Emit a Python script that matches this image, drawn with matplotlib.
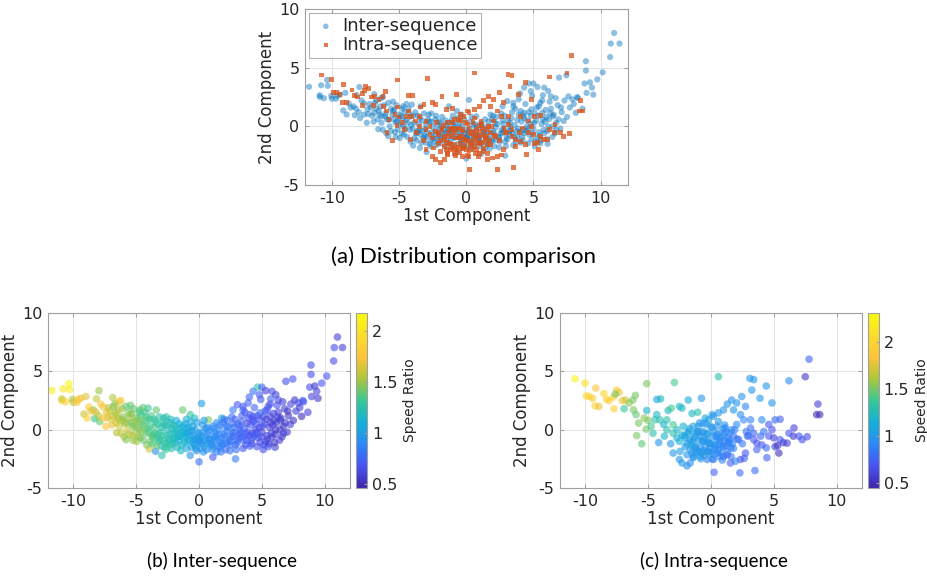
"""PCA projection of inter- vs intra-sequence features, coloured by speed ratio."""

import matplotlib

matplotlib.use("Agg")
import matplotlib.pyplot as plt
from matplotlib.cm import ScalarMappable
from matplotlib.colors import LinearSegmentedColormap, Normalize

plt.rcParams["font.family"] = ["DejaVu Sans"]
plt.rcParams["axes.unicode_minus"] = False

# --- inter-sequence points (1st comp, 2nd comp, speed ratio) ---
inter_x = [
    -11.7, -10.9, -10.9, -10.8, -10.35, -10.3, -10.05, -10.0, -9.7, -9.4,
    -9.0, -9.15, -8.9, -8.75, -7.95, -8.15, -8.4, -8.3, -7.9, -7.6,
    -7.3, -7.4, -6.85, -6.7, -6.55, -6.35, -6.2, -6.05, -5.8, -5.45,
    -5.1, -4.7, -4.05, -3.95, -3.45, -2.95, -3.4, -2.6, -1.9, -1.3,
    -0.7, -0.35, 0.2, 0.0, -0.7, 0.75, 1.1, 1.8, 2.7, 2.9,
    3.05, 3.5, 3.9, 4.3, 4.65, 5.0, 5.3, 5.7, 6.3, 6.9,
    7.45, 7.6, 8.25, 8.65, 8.15, 8.9, 8.9, 8.8, 8.95, 9.2,
    9.35, 9.45, 9.75, 10.15, 10.7, 10.75, 11.0, 11.4, 4.2, 4.6,
    5.1, 5.5, 6.05, 6.7, 7.25, 6.45, 5.65, 5.4, 4.85, 4.3,
    3.8, 3.25, 2.7, 2.2, 1.65, 1.1, 0.6, 0.05, -0.45, -1.0,
    -1.5, -2.05, -2.6, -3.1, -3.65, -4.2, -4.7, -5.25, -5.75, -6.3,
    -6.85, -7.35, -8.6, -8.0, -7.8, -7.2, -7.0, -6.8, -6.5, -6.3,
    -6.1, -6.0, -5.8, -5.7, -5.6, -5.4, -5.3, -5.2, -5.0, -4.9,
    -4.8, -4.6, -4.5, -4.4, -4.3, -4.2, -4.0, -3.9, -3.8, -3.7,
    -3.6, -3.5, -3.3, -3.2, -3.0, -2.9, -2.8, -2.7, -2.5, -2.4,
    -2.3, -2.2, -2.0, -1.9, -1.8, -1.7, -1.5, -1.4, -1.2, -1.1,
    -0.9, -0.8, -0.6, -0.5, -0.3, -0.2, 0.0, 0.2, 0.3, 0.5,
    0.6, 0.8, 0.9, 1.1, 1.3, 1.4, 1.6, 1.7, 1.9, 2.0,
    2.1, 2.3, 2.4, 2.6, 2.8, 2.9, 3.1, 3.2, 3.4, 3.5,
    3.6, 3.8, 3.9, 4.1, 4.2, 4.4, 4.5, 4.7, 4.8, 4.9,
    5.0, 5.2, 5.3, 5.5, 5.6, 5.8, 5.9, 6.1, 6.2, 6.4,
    6.5, 6.7, 6.8, 7.0, 7.1, 7.3, 7.5, 7.7, 7.9, 8.0,
    8.3, -4.7, -4.1, -3.4, -3.0, -2.6, -2.1, -1.6, -1.3, -1.0,
    -0.7, -0.4, -0.1, 0.1, 0.4, 0.7, 1.0, 1.2, 1.5, 1.8,
    2.2, 2.5, 2.7, 3.0, 3.3, 3.7, 4.0, 4.3, 4.6, 5.1,
    5.4, 5.7, 6.0, 6.3, 6.6, -5.5, -6.6, -7.6, -8.2, -9.6,
    -10.6, -2.3, -1.0, 0.4, 1.4, -0.3, 2.0, 3.5, 4.0, 4.8,
    5.8, 6.1,
    -7.1, -6.9, -6.7, -6.4, -6.2, -5.9, -5.6, -5.35, -5.15, -4.95,
    -4.75, -4.55, -4.35, -4.15, -3.95, -3.75, -3.55, -3.35, -3.15, -2.95,
    -2.75, -2.55, -2.35, -2.15, -1.95, -1.75, -1.55, -1.35, -1.15, -0.95,
    -0.75, -0.55, -0.35, -0.15, 0.05, 0.25, 0.45, 0.65, 0.85, 1.05,
    1.25, 1.45, 1.65, 1.85, 2.05, 2.25, 2.45, 2.65, 2.85, 3.05,
    3.25, 3.45, 3.65, 3.85, 4.05, 4.25, 4.45, 4.65, 4.85, 5.05,
    5.25, 5.45, 5.65, 5.85, 6.05, 6.25, 6.45, 6.65, 6.85, 7.05,
    -6.45, -5.95, -5.45, -5.05, -4.65, -4.25, -3.85, -3.45, -3.05, -2.65,
    -2.25, -1.85, -1.45, -1.05, -0.65, -0.25, 0.15, 0.55, 0.95, 1.35,
    1.75, 2.15, 2.55, 2.95, 3.35, 3.75, 4.15, 4.55, 4.95, 5.35,
    5.75, 6.15, -5.25, -4.45, -3.65, -2.85, -2.05, -1.25, -0.45, 0.35,
    1.15, 1.95, 2.75, 3.55, 4.35, 5.15, 5.95, -3.25, -1.65, 0.0,
    1.6, 3.2, 4.8, -4.85, -2.45, -0.85, 0.85, 2.45, 4.05, 5.55,
]
inter_y = [
    3.37, 2.5, 2.65, 3.5, 3.95, 3.45, 2.6, 2.35, 2.35, 2.7,
    2.85, 1.35, 1.0, 1.95, 3.35, 2.65, 1.7, 0.95, 0.7, 1.95,
    1.05, 0.3, 2.75, 1.5, -0.25, 2.4, 2.5, 0.85, -0.85, 1.3,
    -0.25, 1.7, 1.85, -1.65, -1.85, -2.2, 1.7, 1.1, 0.3, 1.7,
    1.3, 1.0, 2.25, -2.75, -2.2, 0.85, -2.35, 1.0, 1.7, -2.5,
    2.15, 1.7, 2.3, 3.3, 3.65, 3.65, 3.35, 2.65, 2.55, 4.15,
    4.35, 2.55, 2.5, 1.5, 1.15, 5.55, 4.75, 3.65, 2.85, 3.75,
    3.3, 2.7, 4.0, 4.6, 5.9, 7.05, 7.95, 7.05, -0.3, -1.45,
    -1.7, -1.45, -1.5, -0.3, 0.45, 0.85, 1.15, 1.7, 1.45, 1.15,
    0.55, 0.0, -0.55, -1.15, -1.55, -1.45, -1.15, -0.85, -0.55, -0.3,
    -0.55, -0.85, -1.15, -0.85, -0.55, -0.3, 0.0, 0.3, 0.55, 0.85,
    1.15, 1.45, 1.6, 1.2, 2.2, 1.9, 0.9, 2.0, 1.3, 0.3,
    1.8, 1.1, 2.0, 0.0, 1.5, 0.6, -0.5, 1.8, 1.0, 0.2,
    -0.6, 1.2, 0.5, -0.9, 1.5, 0.8, -0.2, 0.3, 1.2, -1.2,
    0.9, -0.3, 0.5, -1.0, 0.2, -0.5, 1.0, -1.5, 0.0, -0.8,
    0.6, -1.6, -0.3, -1.1, 0.8, -0.6, 0.1, -1.3, -0.7, 0.5,
    -1.0, -0.2, -1.5, 0.3, -0.8, -1.8, -0.3, -1.2, 0.4, -0.6,
    -1.7, -0.1, -1.0, 0.3, -0.5, -1.9, 0.0, -1.1, 0.6, -0.4,
    -1.7, 0.2, -0.9, 1.1, -0.2, -1.3, 0.5, -0.7, 1.2, -1.6,
    0.1, -0.9, 1.0, 0.4, -1.2, 1.9, 0.0, -0.7, 0.9, 2.6,
    -0.2, 0.5, -1.0, 2.0, 0.2, -0.6, 1.4, 0.0, 2.1, -0.9,
    1.0, 0.3, 1.8, -0.2, 1.2, 2.2, 0.8, 1.6, 2.3, 1.9,
    2.4, 0.7, 0.1, -0.7, -1.4, 0.4, -1.2, -0.9, 0.3, -1.6,
    -0.5, -1.2, -0.6, -1.6, -0.9, -0.4, -1.3, -0.8, -1.4, -0.7,
    -0.1, -1.3, 0.5, -0.9, -0.3, -1.3, -0.5, 0.7, -0.2, 1.1,
    -0.5, 0.6, -1.1, 1.5, -0.6, 1.0, 0.6, 1.0, 1.5, 2.6,
    2.4, -0.4, 0.9, 0.8, 0.6, 0.0, 0.9, 2.0, 2.8, 3.0,
    3.3, 3.0,
    1.6, 0.4, 2.2, 1.7, -0.3, 0.6, -0.4, 1.4, 0.4, -1.0,
    1.5, -0.2, 0.3, -1.3, 0.9, -0.6, 0.2, -1.4, 1.1, -0.9,
    0.4, -0.5, -1.3, 0.1, -0.7, -1.5, 0.5, -0.2, -1.1, 0.1,
    -0.9, -0.1, -1.3, 0.6, -1.0, -0.2, -1.4, 0.2, -0.8, -1.7,
    -0.2, -0.9, 0.4, -1.3, -0.6, 0.8, -1.0, -0.3, 0.9, -1.1,
    0.3, -0.6, 1.5, -0.2, -1.4, 0.9, -0.4, 1.2, -1.1, 0.3,
    1.6, -0.8, 2.2, 0.4, -0.4, 1.1, 0.0, 2.4, 0.6, 1.6,
    1.0, -0.6, 2.1, 0.7, -0.7, 1.1, -1.0, 0.7, -0.2, -1.7,
    0.9, -0.1, -1.8, -0.5, 0.7, -1.6, -0.5, 0.1, -1.2, -0.6,
    -1.9, 0.3, -0.6, -1.7, 0.7, -0.4, -0.9, 0.5, -0.6, 0.9,
    -0.3, 0.6, -0.9, 1.9, -0.4, 0.6, 0.4, -0.3, -0.9, -1.9,
    0.1, -1.2, 0.2, -0.9, -0.6, -1.3, 0.8, -0.4, -0.3, -1.0,
    -0.4, -0.4, 0.2, 0.9, -1.0, 0.2, -0.8, -1.8, 1.3, -1.2,
]
inter_speed = [
    2.1, 1.9, 1.6, 2.05, 2.15, 2.1, 1.55, 1.6, 1.8, 1.7,
    1.65, 1.6, 1.85, 1.8, 1.5, 1.6, 1.5, 1.3, 1.4, 1.7,
    1.6, 1.75, 1.55, 1.5, 1.55, 1.65, 1.8, 1.5, 1.45, 1.6,
    1.5, 1.35, 1.3, 1.6, 0.95, 1.25, 1.4, 1.3, 1.2, 1.4,
    1.3, 1.2, 1.0, 0.8, 0.95, 1.45, 0.7, 1.1, 0.85, 0.85,
    0.7, 0.8, 0.75, 0.8, 1.25, 0.75, 0.6, 0.75, 0.65, 0.65,
    0.7, 0.55, 0.7, 0.6, 0.5, 0.65, 0.65, 0.65, 0.6, 0.55,
    0.6, 0.55, 0.7, 0.7, 0.65, 0.65, 0.6, 0.6, 0.55, 0.65,
    0.65, 0.7, 0.6, 0.65, 0.6, 0.6, 0.6, 0.7, 0.8, 0.65,
    0.6, 0.75, 0.8, 0.85, 0.9, 0.95, 1.0, 0.95, 1.0, 1.1,
    1.15, 1.15, 1.25, 1.3, 1.35, 1.4, 1.45, 1.45, 1.5, 1.55,
    1.6, 1.7, 1.7, 1.55, 1.75, 1.55, 1.65, 1.45, 1.55, 1.6,
    1.5, 1.45, 1.4, 1.6, 1.45, 1.4, 1.55, 1.4, 1.4, 1.45,
    1.5, 1.35, 1.4, 1.4, 1.3, 1.35, 1.35, 1.3, 1.35, 1.35,
    1.3, 1.3, 1.25, 1.3, 1.2, 1.25, 1.2, 1.25, 1.2, 1.2,
    1.15, 1.2, 1.15, 1.15, 1.1, 1.15, 1.1, 1.1, 1.1, 1.05,
    1.05, 1.0, 1.0, 1.05, 1.0, 0.95, 0.95, 0.95, 1.0, 0.95,
    0.9, 0.95, 0.9, 0.9, 0.9, 0.85, 0.9, 0.85, 0.85, 0.85,
    0.8, 0.85, 0.8, 0.8, 0.8, 0.75, 0.8, 0.75, 0.75, 0.7,
    0.75, 0.7, 0.7, 0.7, 0.65, 0.75, 0.65, 0.65, 0.7, 0.7,
    0.6, 0.65, 0.6, 0.7, 0.6, 0.6, 0.6, 0.55, 0.65, 0.6,
    0.55, 0.55, 0.6, 0.55, 0.55, 0.6, 0.55, 0.6, 0.65, 0.6,
    0.7, 1.4, 1.35, 1.3, 1.2, 1.25, 1.2, 1.1, 1.1, 1.05,
    1.0, 1.0, 0.95, 0.95, 0.95, 0.9, 0.9, 0.9, 0.85, 0.85,
    0.85, 0.8, 0.8, 0.75, 0.75, 0.7, 0.7, 0.7, 0.65, 0.65,
    0.6, 0.6, 0.55, 0.6, 0.55, 1.5, 1.6, 1.75, 1.65, 1.75,
    1.85, 1.2, 1.1, 1.0, 0.9, 1.0, 0.8, 0.7, 0.75, 0.7,
    0.65, 0.6,
    1.6, 1.7, 1.5, 1.55, 1.6, 1.5, 1.55, 1.45, 1.45, 1.5,
    1.35, 1.45, 1.4, 1.45, 1.3, 1.4, 1.35, 1.4, 1.25, 1.3,
    1.25, 1.25, 1.3, 1.2, 1.2, 1.2, 1.1, 1.15, 1.15, 1.05,
    1.1, 1.0, 1.05, 1.0, 1.0, 0.95, 1.0, 0.9, 0.95, 0.95,
    0.9, 0.9, 0.85, 0.9, 0.85, 0.8, 0.85, 0.8, 0.75, 0.8,
    0.75, 0.75, 0.7, 0.7, 0.7, 0.65, 0.7, 0.7, 0.65, 0.65,
    0.7, 0.6, 0.65, 0.6, 0.55, 0.6, 0.55, 0.6, 0.55, 0.55,
    1.55, 1.5, 1.4, 1.5, 1.45, 1.35, 1.4, 1.3, 1.3, 1.3,
    1.2, 1.2, 1.15, 1.1, 1.05, 1.0, 1.0, 0.95, 0.95, 0.9,
    0.85, 0.85, 0.8, 0.8, 0.75, 0.7, 0.7, 0.7, 0.65, 0.6,
    0.6, 0.55, 1.5, 1.4, 1.35, 1.25, 1.2, 1.1, 1.0, 0.95,
    0.9, 0.85, 0.8, 0.75, 0.7, 0.65, 0.6, 1.3, 1.15, 0.95,
    0.9, 0.75, 0.65, 1.45, 1.25, 1.05, 0.95, 0.8, 0.7, 0.6,
]

# --- intra-sequence points ---
intra_x = [
    -10.8, -10.0, -9.9, -9.65, -9.4, -9.15, -9.2, -8.9, -8.5, -8.3,
    -8.1, -7.7, -7.75, -7.5, -7.3, -7.6, -7.05, -6.9, -6.8, -6.5,
    -6.2, -6.0, -6.15, -5.95, -5.75, -5.9, -5.5, -5.1, -5.1, -5.3,
    -5.0, -5.15, -4.75, -4.3, -4.0, -4.15, -4.05, -3.5, -3.4, -3.15,
    -2.9, -3.2, -3.0, -2.5, -2.3, -1.8, -1.5, -1.05, -0.75, -3.0,
    -2.5, -1.9, 0.6, 0.25, 2.3, 3.5, 3.1, 3.4, 4.4, 3.25,
    3.9, 4.85, 6.2, 7.8, 7.5, 8.5, 8.4, 8.65, 7.65, 7.25,
    6.6, 6.55, 6.05, 5.75, 5.4, 5.3, 5.5, 5.1, 5.1, 4.6,
    4.45, 4.4, 4.05, 3.95, 3.65, 3.4, 3.15, 2.9, 2.75, 2.65,
    2.35, 1.95, 1.55, 1.3, 1.0, 0.6, 0.2, -0.3, -0.85, -1.4,
    -1.65, -2.3, -2.45, -2.05, -1.65, -1.25, -1.0, -0.6, -0.2, 0.2,
    0.6, 1.0, 1.3, 1.65, 2.05, 2.45, 2.75, 1.8, 2.35, 2.6,
    2.05, 1.65, 1.8, 2.2, 1.4, 1.0, 0.5, -0.05, -0.45, -0.85,
    -1.25, -1.65, -1.9, -1.4, -0.85, -0.3, 0.2, 0.75, 1.15, 0.5,
    -0.05, -0.6, -1.1, 0.2, -0.3, -0.6, 0.35, -0.2, -0.7, 0.75,
    1.3, 1.6, 1.0, 0.6, 0.1, -0.45, -1.4, -1.8, -2.2, -2.3,
    -2.7, -2.7, -2.05, -3.0, -3.5, -3.75, -4.45, -4.3, -4.6, -3.7,
    2.8, 3.15, 3.4, 3.65, 4.05, 4.2, 4.85, 4.6, 5.0, 5.5,
    6.2, 7.0,
    -1.9, -1.7, -1.5, -1.3, -1.1, -0.9, -0.7, -0.5, -0.3, -0.1,
    0.1, 0.3, 0.5, 0.7, 0.9, 1.1, 1.3, 1.5, 1.7, 1.9,
    -1.8, -1.4, -1.0, -0.6, -0.2, 0.2, 0.6, 1.0, 1.4, 1.8,
    -1.2, -0.8, -0.4, 0.0, 0.4, 0.8, 1.2, -2.1, -1.6, -0.9,
    0.1, 0.9, 1.6, 2.1, -0.5, 0.5, -1.5, 1.5, 0.0, -1.0,
    1.0, 2.5, -2.5, 3.0, -0.3, 0.3, -0.7, 0.7, 1.2, -1.2,
]
intra_y = [
    4.37, 4.0, 2.9, 2.85, 2.7, 3.57, 2.05, 2.0, 3.1, 2.6,
    2.5, 1.8, 2.8, 3.4, 3.2, 3.05, 2.5, 1.8, 2.55, 2.3,
    2.55, 2.95, 1.7, 1.3, 0.57, -0.5, -1.2, 3.95, 1.65, 1.0,
    0.8, 0.05, 0.3, 2.6, 2.65, -1.1, 0.85, 0.85, 1.65, 1.85,
    4.05, -1.2, 0.43, 2.0, 1.85, 2.55, 1.4, 1.5, 2.7, -2.0,
    -2.55, -3.1, 4.55, -3.65, -3.7, -3.5, 4.4, 4.3, 3.75, 3.4,
    2.7, 2.3, 4.2, 6.05, 4.55, 2.2, 1.3, 1.3, -0.6, -0.85,
    0.15, -0.55, -1.15, -1.1, -2.0, -1.35, 0.9, 0.85, -1.45, -0.55,
    -2.4, -1.55, 0.85, -0.55, -1.15, -0.3, 0.85, -0.55, -2.0, -2.45,
    -2.55, -2.7, -2.85, -2.15, -2.3, -1.7, -2.55, -2.55, -2.3, -2.3,
    -2.85, -2.85, -1.85, -1.45, -0.85, -0.3, 0.3, 0.55, 0.85, 1.15,
    1.45, 1.7, 2.2, 2.55, 2.3, 2.85, 2.0, 1.7, 1.3, 0.85,
    0.45, 0.0, -0.55, -0.85, -1.15, -1.45, -0.85, -1.15, -1.45, -1.55,
    -1.45, -1.7, -2.15, -0.85, -0.55, -0.3, -0.15, -0.3, 0.15, 0.3,
    0.3, -0.15, -0.15, -0.55, -0.85, -1.0, -1.45, -1.85, -2.0, -1.0,
    -0.7, -1.55, -0.45, 0.7, 1.3, 1.0, 0.3, -0.15, 0.3, -0.45,
    0.0, -0.7, -0.7, -0.3, 0.0, 0.45, 0.85, 1.3, -0.3, -0.55,
    -0.15, 0.15, -0.85, -1.7, -1.3, -0.15, 0.0, 0.45, -0.7, -0.85,
    -0.3, -0.55,
    -1.2, 0.1, -2.0, -0.6, -1.8, 0.6, -1.0, -2.2, -0.4, -1.6,
    0.2, -1.3, -2.0, -0.7, -1.4, 0.4, -1.9, -0.3, -1.2, 0.0,
    -0.3, -2.4, -0.2, -1.8, -1.1, -2.1, -1.3, 0.1, -1.0, -1.6,
    -1.5, -2.5, 0.5, -1.2, -0.6, -2.0, -0.2, -0.5, -1.1, -1.9,
    -2.5, -2.6, -2.3, -0.8, -0.9, -0.4, -1.4, -0.9, -2.0, -0.9,
    -0.9, -1.2, -1.0, -0.5, -1.9, -1.7, -0.3, -2.3, -1.4, -2.0,
]
intra_speed = [
    2.25, 2.1, 2.0, 2.0, 1.9, 1.85, 2.0, 1.8, 2.0, 2.0,
    1.9, 1.95, 1.95, 1.9, 1.8, 1.5, 1.8, 1.35, 1.7, 1.55,
    1.5, 1.5, 1.5, 1.45, 1.5, 1.5, 1.45, 1.5, 1.2, 1.55,
    1.5, 1.5, 1.4, 1.1, 1.2, 1.0, 1.3, 1.3, 1.2, 1.4,
    1.4, 1.0, 1.4, 1.2, 1.2, 1.1, 1.2, 1.3, 1.0, 1.0,
    1.0, 0.95, 1.3, 0.75, 0.8, 0.8, 1.0, 1.0, 1.0, 1.0,
    1.0, 1.0, 0.95, 0.75, 0.55, 0.6, 0.5, 0.5, 0.65, 0.65,
    0.6, 0.55, 0.6, 0.55, 0.5, 0.5, 0.75, 0.8, 0.6, 0.7,
    0.75, 0.8, 0.95, 0.75, 0.7, 0.75, 0.9, 0.8, 0.7, 0.75,
    0.7, 0.9, 0.75, 0.7, 0.75, 0.9, 0.8, 0.85, 0.95, 0.95,
    0.95, 1.0, 1.05, 1.0, 1.0, 1.0, 1.0, 1.0, 1.05, 1.0,
    1.0, 1.0, 1.0, 0.95, 1.0, 1.0, 0.9, 1.0, 0.95, 0.9,
    0.95, 0.9, 0.8, 0.8, 0.85, 0.85, 0.95, 0.95, 0.95, 1.0,
    1.0, 1.0, 1.0, 1.0, 1.0, 1.0, 1.0, 0.95, 0.95, 1.0,
    1.0, 1.0, 1.05, 1.0, 1.0, 1.0, 0.95, 1.0, 1.0, 0.9,
    0.9, 0.85, 0.95, 1.0, 1.0, 1.05, 1.05, 1.1, 1.15, 1.1,
    1.2, 1.1, 1.05, 1.3, 1.3, 1.2, 1.3, 1.2, 1.3, 1.2,
    0.85, 0.8, 0.7, 0.75, 0.7, 0.85, 0.7, 0.7, 0.6, 0.7,
    0.7, 0.7,
    1.05, 1.05, 1.0, 1.05, 1.0, 1.0, 1.0, 1.0, 1.0, 0.95,
    1.0, 0.95, 0.95, 0.95, 0.9, 0.95, 0.9, 0.9, 0.9, 0.9,
    1.05, 1.0, 1.0, 1.0, 1.0, 0.95, 0.95, 0.95, 0.9, 0.9,
    1.0, 1.0, 1.0, 1.0, 0.95, 0.9, 0.9, 1.1, 1.05, 1.0,
    0.95, 0.9, 0.85, 0.85, 1.0, 0.95, 1.05, 0.9, 0.95, 1.0,
    0.9, 0.85, 1.15, 0.8, 1.0, 0.95, 1.0, 0.9, 0.9, 1.0,
]

# MATLAB parula, approximated from a handful of anchor colours
parula = LinearSegmentedColormap.from_list("parula", [
    (0.2422, 0.1504, 0.6603), (0.2810, 0.3228, 0.9579),
    (0.1786, 0.5289, 0.9682), (0.0689, 0.6948, 0.8394),
    (0.2161, 0.7843, 0.5923), (0.6720, 0.7793, 0.2227),
    (0.9970, 0.7659, 0.2199), (0.9856, 0.8674, 0.1658),
    (0.9763, 0.9831, 0.0538),
])

AX_GRAY = "#a0a0a0"
TXT = "#262626"


def style_axes(ax):
    ax.set_xlim(-12, 12)
    ax.set_ylim(-5, 10)
    ax.set_xticks([-10, -5, 0, 5, 10])
    ax.set_yticks([-5, 0, 5, 10])
    ax.grid(True, color="#e3e3e3", lw=0.7)
    ax.set_axisbelow(True)
    for s in ax.spines.values():
        s.set_color(AX_GRAY)
        s.set_linewidth(0.8)
    ax.tick_params(direction="in", length=3, color=AX_GRAY, labelcolor=TXT,
                   labelsize=11.5, top=True, right=True, pad=4)
    ax.set_xlabel("1st Component", fontsize=12, color=TXT, labelpad=1)
    ax.set_ylabel("2nd Component", fontsize=12, color=TXT, labelpad=2)


def colorbar(fig, rect, vmin, vmax):
    cax = fig.add_axes(rect)
    sm = ScalarMappable(norm=Normalize(vmin, vmax), cmap=parula)
    cb = fig.colorbar(sm, cax=cax, ticks=[0.5, 1, 1.5, 2])
    cb.set_ticklabels(["0.5", "1", "1.5", "2"])
    cb.outline.set_edgecolor(AX_GRAY)
    cb.outline.set_linewidth(0.8)
    cax.tick_params(direction="in", length=2, color=AX_GRAY, labelcolor=TXT,
                    labelsize=11.5)
    cb.set_label("Speed Ratio", fontsize=10, color=TXT, labelpad=4)


fig = plt.figure(figsize=(9.27, 5.81), dpi=100)

# --- (a) both distributions ---
ax_a = fig.add_axes([0.329, 0.6816, 0.348, 0.303])
ax_a.scatter(inter_x, inter_y, s=20, color="#0072BD", alpha=0.45,
             edgecolors="none", label="Inter-sequence")
ax_a.scatter(intra_x, intra_y, s=12, marker="s", color="#D95319", alpha=0.75,
             edgecolors="none", label="Intra-sequence")
style_axes(ax_a)
leg = ax_a.legend(loc="upper left", fontsize=13, frameon=True, fancybox=False,
                  borderpad=0.2, handletextpad=0.2, labelspacing=0.05,
                  borderaxespad=0.25, markerscale=0.9, handlelength=1.4)
leg.get_frame().set_edgecolor(AX_GRAY)
leg.get_frame().set_linewidth(0.8)
for t in leg.get_texts():
    t.set_color(TXT)

# --- (b) inter-sequence, coloured by speed ratio ---
ax_b = fig.add_axes([0.0518, 0.160, 0.3258, 0.301])
ax_b.scatter(inter_x, inter_y, c=inter_speed, cmap=parula, vmin=0.46, vmax=2.17,
             s=30, alpha=0.6, edgecolors="none")
style_axes(ax_b)
colorbar(fig, [0.384, 0.160, 0.0119, 0.301], 0.46, 2.17)

# --- (c) intra-sequence ---
ax_c = fig.add_axes([0.604, 0.160, 0.3258, 0.301])
ax_c.scatter(intra_x, intra_y, c=intra_speed, cmap=parula, vmin=0.45, vmax=2.3,
             s=30, alpha=0.6, edgecolors="none")
style_axes(ax_c)
colorbar(fig, [0.936, 0.160, 0.0119, 0.301], 0.45, 2.3)

# sub-figure captions
cap = dict(color="black", ha="center", va="center", family=["Lato"])
fig.text(0.4995, 1 - 257 / 581, "(a) Distribution comparison", fontsize=16, **cap)
fig.text(0.239, 1 - 561 / 581, "(b) Inter-sequence", fontsize=13.5, **cap)
fig.text(0.770, 1 - 561 / 581, "(c) Intra-sequence", fontsize=13.5, **cap)

fig.savefig("out.png", dpi=100)
